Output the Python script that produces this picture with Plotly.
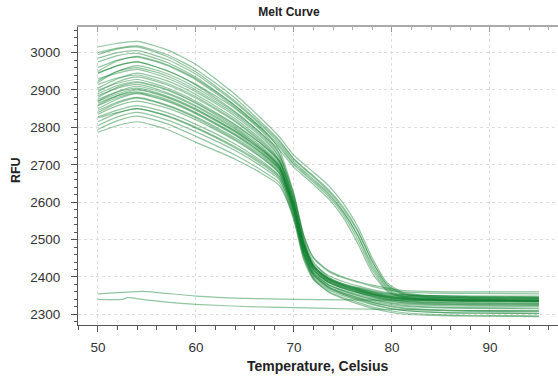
import plotly.graph_objects as go

# Temperature grid (Celsius) shared by the melt curves
temps = [50, 52, 54, 57, 60, 64, 67, 68.5, 70, 71, 72, 73.5, 75, 76.5, 78, 79.5, 81, 84, 88, 95]

# Main population (melt near 70-71 C)
main_curves = [
    [2950, 2978, 2990, 2968, 2930, 2858, 2790, 2740, 2620, 2500, 2430, 2395, 2378, 2366, 2356, 2349, 2345, 2342, 2340, 2338],
    [2945, 2965, 2975, 2952, 2915, 2850, 2782, 2730, 2600, 2485, 2425, 2392, 2376, 2364, 2354, 2347, 2343, 2340, 2338, 2337],
    [2920, 2950, 2965, 2944, 2906, 2840, 2775, 2728, 2615, 2505, 2440, 2400, 2382, 2370, 2360, 2352, 2348, 2346, 2345, 2344],
    [2930, 2945, 2955, 2932, 2895, 2830, 2766, 2718, 2590, 2478, 2420, 2388, 2372, 2360, 2350, 2342, 2337, 2333, 2331, 2330],
    [2905, 2930, 2945, 2925, 2888, 2823, 2760, 2712, 2600, 2490, 2428, 2394, 2378, 2368, 2358, 2350, 2345, 2342, 2340, 2340],
    [2895, 2922, 2935, 2914, 2878, 2815, 2752, 2708, 2585, 2475, 2418, 2386, 2370, 2358, 2348, 2340, 2335, 2330, 2328, 2327],
    [2900, 2918, 2928, 2906, 2870, 2808, 2748, 2704, 2596, 2488, 2428, 2395, 2380, 2370, 2361, 2354, 2349, 2346, 2344, 2343],
    [2880, 2908, 2920, 2900, 2864, 2802, 2742, 2700, 2580, 2470, 2415, 2385, 2370, 2359, 2349, 2341, 2336, 2332, 2330, 2329],
    [2885, 2905, 2915, 2893, 2858, 2798, 2738, 2697, 2592, 2484, 2424, 2390, 2374, 2363, 2353, 2346, 2341, 2338, 2336, 2335],
    [2870, 2896, 2910, 2890, 2855, 2795, 2736, 2695, 2575, 2466, 2410, 2380, 2365, 2354, 2344, 2336, 2331, 2327, 2325, 2324],
    [2875, 2895, 2905, 2884, 2850, 2790, 2733, 2692, 2588, 2480, 2420, 2388, 2373, 2362, 2352, 2345, 2340, 2337, 2335, 2334],
    [2860, 2885, 2900, 2880, 2846, 2787, 2730, 2690, 2570, 2462, 2408, 2378, 2362, 2350, 2340, 2333, 2328, 2324, 2322, 2321],
    [2865, 2885, 2895, 2875, 2840, 2782, 2726, 2688, 2595, 2492, 2430, 2396, 2380, 2368, 2357, 2349, 2344, 2340, 2338, 2337],
    [2850, 2876, 2890, 2870, 2836, 2778, 2722, 2684, 2565, 2458, 2404, 2374, 2358, 2346, 2336, 2328, 2322, 2318, 2316, 2315],
    [2845, 2868, 2880, 2860, 2828, 2772, 2718, 2680, 2585, 2484, 2425, 2392, 2376, 2364, 2353, 2345, 2340, 2336, 2334, 2333],
    [2835, 2858, 2870, 2852, 2820, 2765, 2712, 2676, 2560, 2455, 2400, 2370, 2354, 2342, 2332, 2324, 2318, 2313, 2310, 2309],
    [2828, 2846, 2858, 2840, 2808, 2755, 2704, 2670, 2578, 2476, 2418, 2386, 2370, 2358, 2347, 2338, 2332, 2328, 2326, 2325],
    [2825, 2840, 2850, 2830, 2798, 2745, 2696, 2664, 2555, 2450, 2396, 2366, 2350, 2337, 2326, 2317, 2311, 2306, 2303, 2302],
    [2805, 2828, 2840, 2820, 2788, 2738, 2690, 2660, 2570, 2470, 2412, 2380, 2364, 2351, 2340, 2331, 2325, 2320, 2318, 2317],
    [2795, 2818, 2830, 2810, 2776, 2726, 2680, 2652, 2550, 2445, 2392, 2362, 2345, 2332, 2320, 2311, 2305, 2300, 2297, 2296],
    [2787, 2805, 2815, 2795, 2760, 2715, 2672, 2645, 2560, 2462, 2406, 2374, 2357, 2344, 2332, 2323, 2316, 2311, 2308, 2307],
    [2915, 2932, 2940, 2918, 2882, 2818, 2756, 2710, 2605, 2495, 2432, 2398, 2382, 2372, 2363, 2356, 2352, 2350, 2349, 2349],
    [2890, 2912, 2922, 2902, 2866, 2806, 2748, 2710, 2610, 2510, 2450, 2415, 2398, 2386, 2375, 2366, 2360, 2357, 2356, 2355],
    [2858, 2880, 2892, 2872, 2838, 2780, 2725, 2688, 2575, 2460, 2395, 2360, 2342, 2328, 2316, 2307, 2301, 2297, 2295, 2294],
    [2925, 2950, 2960, 2938, 2900, 2835, 2770, 2722, 2620, 2512, 2452, 2418, 2400, 2388, 2378, 2370, 2364, 2361, 2360, 2360],
    [2840, 2865, 2878, 2858, 2825, 2768, 2714, 2678, 2590, 2492, 2436, 2404, 2388, 2376, 2366, 2358, 2353, 2350, 2348, 2347],
    [2870, 2890, 2902, 2882, 2848, 2790, 2734, 2696, 2580, 2468, 2406, 2372, 2354, 2340, 2328, 2318, 2311, 2306, 2304, 2303],
    [2815, 2838, 2850, 2832, 2800, 2748, 2700, 2668, 2585, 2485, 2428, 2395, 2378, 2366, 2355, 2347, 2342, 2339, 2337, 2336],
]

# Late-melting population (melt near 78 C)
late_curves = [
    [3015, 3025, 3030, 3008, 2968, 2888, 2815, 2775, 2725, 2702, 2680, 2645, 2598, 2535, 2450, 2385, 2360, 2350, 2347, 2345],
    [3000, 3012, 3018, 2995, 2955, 2878, 2805, 2766, 2716, 2692, 2670, 2634, 2588, 2525, 2440, 2378, 2356, 2346, 2343, 2342],
    [2985, 3000, 3005, 2982, 2942, 2866, 2796, 2757, 2708, 2684, 2661, 2625, 2576, 2510, 2425, 2370, 2350, 2342, 2339, 2338],
    [2960, 2980, 2988, 2966, 2927, 2853, 2786, 2747, 2699, 2676, 2653, 2616, 2568, 2500, 2418, 2365, 2348, 2340, 2338, 2337],
    [2975, 2992, 2998, 2974, 2934, 2858, 2790, 2752, 2703, 2680, 2657, 2621, 2574, 2512, 2432, 2374, 2354, 2345, 2342, 2341],
    [2945, 2965, 2975, 2952, 2913, 2842, 2776, 2740, 2693, 2670, 2647, 2610, 2560, 2490, 2410, 2362, 2346, 2338, 2336, 2335],
    [2995, 3010, 3015, 2990, 2948, 2870, 2800, 2762, 2714, 2690, 2667, 2630, 2583, 2522, 2442, 2380, 2357, 2348, 2345, 2344],
]

# Two flat (no-melt) traces
flat_a_t = [50, 52, 54, 55, 57, 60, 65, 70, 75, 80, 85, 90, 95]
flat_a_rfu = [2355, 2358, 2361, 2361, 2356, 2349, 2343, 2340, 2339, 2338, 2337, 2337, 2336]
flat_b_t = [50, 52.5, 53, 53.5, 54.5, 57, 60, 65, 70, 75, 80, 85, 90, 95]
flat_b_rfu = [2340, 2340, 2345, 2344, 2340, 2333, 2327, 2321, 2318, 2315, 2313, 2311, 2310, 2310]

LINE = "rgba(18,128,48,0.46)"
FONT = "Liberation Sans, Arial, sans-serif"
LSTYLE = dict(color=LINE, width=1.2, shape="spline", smoothing=0.6)

fig = go.Figure()
for ys in main_curves + late_curves:
    fig.add_trace(go.Scatter(x=temps, y=ys, mode="lines", line=LSTYLE,
                             hoverinfo="skip", showlegend=False))
fig.add_trace(go.Scatter(x=flat_a_t, y=flat_a_rfu, mode="lines", line=LSTYLE, showlegend=False))
fig.add_trace(go.Scatter(x=flat_b_t, y=flat_b_rfu, mode="lines", line=LSTYLE, showlegend=False))
# empty trace to realise the mirrored top axis
fig.add_trace(go.Scatter(x=[], y=[], xaxis="x2", yaxis="y", showlegend=False))

xr = [47.96, 96.94]
yr = [2271.6, 3068.4]

fig.update_layout(
    width=558, height=380,
    margin=dict(l=78, r=0, t=27, b=55),
    paper_bgcolor="white", plot_bgcolor="white",
    font=dict(family=FONT, size=13.5, color="#333"),
    title=dict(text="<b>Melt Curve</b>", x=289 / 558, xref="container", xanchor="center",
               y=1 - 12 / 380, yref="container", yanchor="middle",
               font=dict(family=FONT, size=12, color="#222")),
    xaxis=dict(range=xr, tick0=50, dtick=10, ticks="outside", ticklen=6, tickcolor="#555",
               showline=True, linecolor="#555", linewidth=1,
               showgrid=True, gridcolor="#dedede", griddash="dot", gridwidth=1,
               zeroline=False, ticklabelstandoff=4,
               minor=dict(dtick=2, tick0=50, ticks="outside", ticklen=4, tickcolor="#555", showgrid=False)),
    xaxis2=dict(range=xr, overlaying="x", side="top", anchor="y", tick0=50, dtick=10,
                ticks="inside", ticklen=5, tickcolor="#999", showticklabels=False,
                showline=True, linecolor="#aaa", linewidth=1.5, showgrid=False, zeroline=False,
                minor=dict(dtick=2, tick0=50, ticks="inside", ticklen=3, tickcolor="#aaa", showgrid=False)),
    yaxis=dict(range=yr, tick0=2300, dtick=100, ticks="outside", ticklen=6, tickcolor="#555",
               showline=True, linecolor="#555", linewidth=1,
               showgrid=True, gridcolor="#dedede", griddash="dot", gridwidth=1,
               zeroline=False, ticklabelstandoff=8,
               minor=dict(dtick=20, tick0=2300, ticks="outside", ticklen=3, tickcolor="#555", showgrid=False)),
    annotations=[
        dict(text="<b>RFU</b>", xref="paper", yref="paper", x=(16 - 78) / 480, y=0.52,
             textangle=-90, showarrow=False, xanchor="center", yanchor="middle",
             font=dict(family=FONT, size=12.5, color="#222")),
        dict(text="<b>Temperature, Celsius</b>", xref="paper", yref="paper", x=(318 - 78) / 480,
             y=(325 - 366) / 298, showarrow=False, xanchor="center", yanchor="middle",
             font=dict(family=FONT, size=14, color="#222")),
    ],
)

fig.write_html("out.html")
